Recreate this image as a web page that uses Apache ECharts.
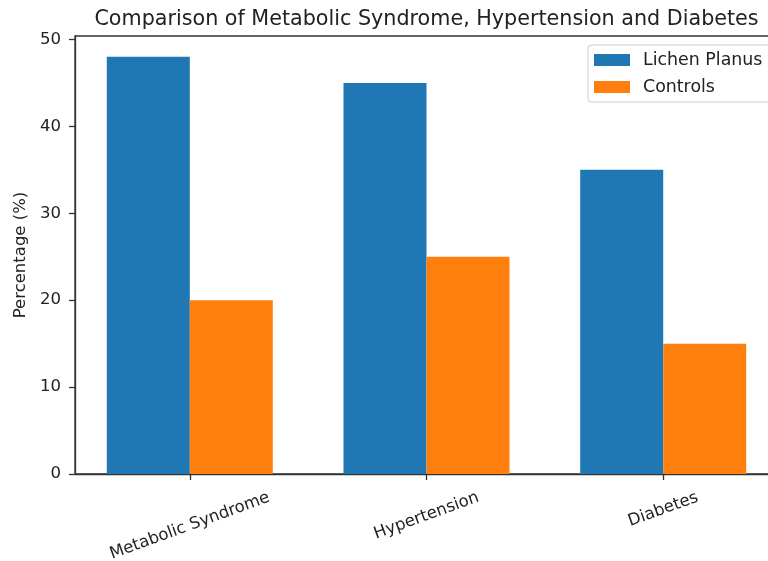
<!DOCTYPE html>
<html>
<head>
<meta charset="utf-8">
<script src="https://cdn.jsdelivr.net/npm/echarts@6/dist/echarts.min.js"></script>
<style>html,body{margin:0;padding:0;background:#fff}#c{width:768px;height:561px}</style>
</head>
<body>
<div id="c"></div>
<script>
const categories = ['Metabolic Syndrome', 'Hypertension', 'Diabetes'];
const lichenPlanus = [48, 45, 35];
const controls = [20, 25, 15];
const yTicks = [0, 10, 20, 30, 40, 50];

const FONT = 'DejaVu Sans';
const FS = 16.5;
const ROT = 20;
const th = ROT * Math.PI / 180;

const ctx = document.createElement('canvas').getContext('2d');
ctx.font = FS + 'px "' + FONT + '"';
const rich = {};
categories.forEach((c, i) => {
  const w = ctx.measureText(c).width;
  const d = w * Math.sin(th) / 2;
  rich['l' + i] = {
    fontFamily: FONT, fontSize: FS, color: '#222',
    padding: [2 * d * Math.cos(th), 2 * d * Math.sin(th), 0, 0]
  };
});

const TITLE = 'Comparison of Metabolic Syndrome, Hypertension and Diabetes';
const TITLE_FS = 20.7;
ctx.font = TITLE_FS + 'px "' + FONT + '"';
const titleW = ctx.measureText(TITLE).width;
const plotCenterX = 75 + 703 / 2;

const chart = echarts.init(document.getElementById('c'), null, {renderer: 'canvas'});
chart.setOption({
  animation: false,
  backgroundColor: '#fff',
  textStyle: {fontFamily: FONT},
  title: {
    text: TITLE,
    left: plotCenterX - titleW / 2, top: 0,
    padding: [9, 0, 0, 0],
    textStyle: {fontFamily: FONT, fontSize: TITLE_FS, fontWeight: 'normal', color: '#222'}
  },
  legend: {
    orient: 'vertical',
    left: 588, top: 45,
    padding: [5.5, 10, 5.5, 6],
    itemWidth: 36, itemHeight: 12, itemGap: 8,
    icon: 'rect',
    borderColor: '#ccc', borderWidth: 1, borderRadius: 3,
    backgroundColor: 'rgba(255,255,255,0.8)',
    textStyle: {fontFamily: FONT, fontSize: 17.4, color: '#222', lineHeight: 19, padding: [0, 0, 0, 8]},
    data: ['Lichen Planus', 'Controls']
  },
  grid: {
    left: 75, top: 36, width: 703, height: 438,
    outerBoundsMode: 'none', containLabel: false,
    show: true, borderColor: '#333', borderWidth: 1.3, backgroundColor: 'transparent'
  },
  xAxis: {
    type: 'value', min: -0.485, max: 2.485,
    splitLine: {show: false},
    axisLine: {show: true, onZero: false, lineStyle: {color: '#333', width: 1.3}},
    axisTick: {show: true, customValues: [0, 1, 2], length: 6, lineStyle: {color: '#333', width: 1.3}},
    axisLabel: {
      customValues: [0, 1, 2],
      rotate: ROT, align: 'center', verticalAlign: 'middle', margin: 23,
      formatter: v => '{l' + Math.round(v) + '|' + categories[Math.round(v)] + '}',
      rich: rich
    }
  },
  yAxis: {
    type: 'value', min: 0, max: 50.4, interval: 10,
    name: 'Percentage (%)', nameLocation: 'middle', nameGap: 45,
    nameTextStyle: {fontFamily: FONT, fontSize: FS, color: '#222'},
    splitLine: {show: false},
    axisLine: {show: true, onZero: false, lineStyle: {color: '#333', width: 1.3}},
    axisTick: {show: true, customValues: yTicks, length: 6, lineStyle: {color: '#333', width: 1.3}},
    axisLabel: {customValues: yTicks, margin: 14, fontFamily: FONT, fontSize: FS, color: '#222'}
  },
  series: [
    {
      name: 'Lichen Planus', type: 'bar', barWidth: 83, barGap: '0%',
      itemStyle: {color: '#1f77b4'},
      data: categories.map((c, i) => [i, lichenPlanus[i]])
    },
    {
      name: 'Controls', type: 'bar', barWidth: 83, barGap: '0%',
      itemStyle: {color: '#ff7f0e'},
      data: categories.map((c, i) => [i, controls[i]])
    }
  ]
});
</script>
</body>
</html>
